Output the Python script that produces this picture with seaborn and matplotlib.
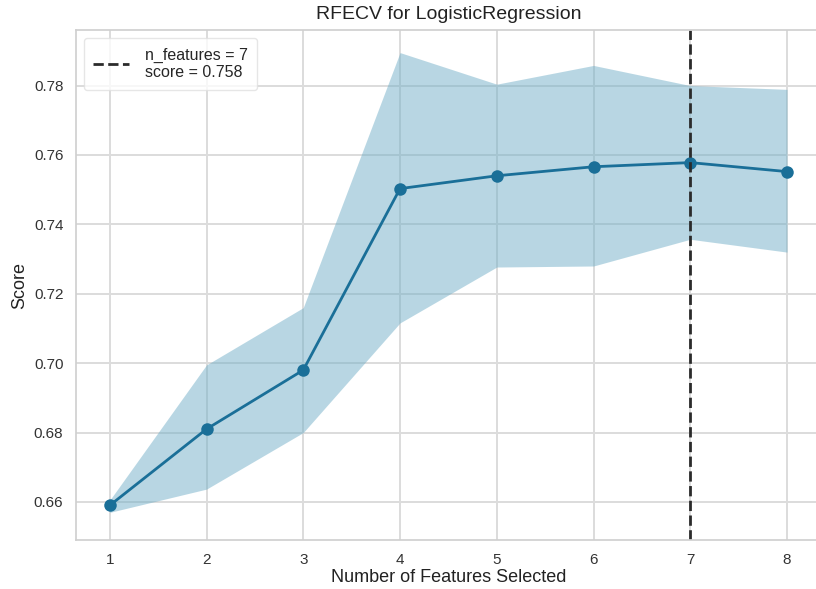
import numpy as np
import pandas as pd
import seaborn as sns
import matplotlib
matplotlib.use("Agg")
import matplotlib.pyplot as plt

n_features = [1, 2, 3, 4, 5, 6, 7, 8]
score_mean = [0.659, 0.681, 0.698, 0.7503, 0.754, 0.7566, 0.7578, 0.7552]
score_upper = [0.6605, 0.6995, 0.716, 0.7895, 0.7804, 0.7858, 0.780, 0.7789]
score_lower = [0.657, 0.6637, 0.680, 0.7116, 0.7277, 0.728, 0.7357, 0.732]
best_n = 7
best_score = 0.758

sns.set_theme(style="whitegrid")
plt.rcParams["font.family"] = ["Liberation Sans", "DejaVu Sans"]
plt.rcParams["grid.color"] = "#dcdcdc"
plt.rcParams["grid.linewidth"] = 1.4
plt.rcParams["axes.edgecolor"] = "#d0d0d0"

color = "#1a6f98"
df = pd.DataFrame({"n": n_features, "score": score_mean})

fig = plt.figure(figsize=(8.16, 5.89), dpi=100)
ax = fig.add_axes([0.093, 0.083, 0.913, 0.866])

ax.fill_between(n_features, score_lower, score_upper, color="#72afc8", alpha=0.5, linewidth=0)
sns.lineplot(data=df, x="n", y="score", marker="o", markersize=9, color=color,
             linewidth=2, markeredgewidth=0, ax=ax)
ax.axvline(best_n, color="#2b2b2b", linestyle="--", linewidth=2,
           label=f"n_features = {best_n}\nscore = {best_score:.3f}")

ax.set_xlim(0.65, 8.35)
ax.set_ylim(0.649, 0.796)
ax.set_xticks(n_features)
yt = [0.66, 0.68, 0.70, 0.72, 0.74, 0.76, 0.78]
ax.set_yticks(yt)
ax.set_yticklabels([f"{v:.2f}" for v in yt])
ax.tick_params(labelsize=11, colors="#333333", pad=3)
ax.set_xlabel("Number of Features Selected", fontsize=13, color="#222222", labelpad=2)
ax.set_ylabel("Score", fontsize=13, color="#222222", labelpad=4)
ax.set_title("RFECV for LogisticRegression", fontsize=14, color="#222222", pad=8)
leg = ax.legend(loc="upper left", fontsize=11.5, frameon=True, handlelength=2.2,
                borderpad=0.6, handletextpad=1.0)
leg.get_frame().set_edgecolor("#e0e0e0")
for s in ax.spines.values():
    s.set_color("#d0d0d0")

fig.savefig("out.png", dpi=100)
